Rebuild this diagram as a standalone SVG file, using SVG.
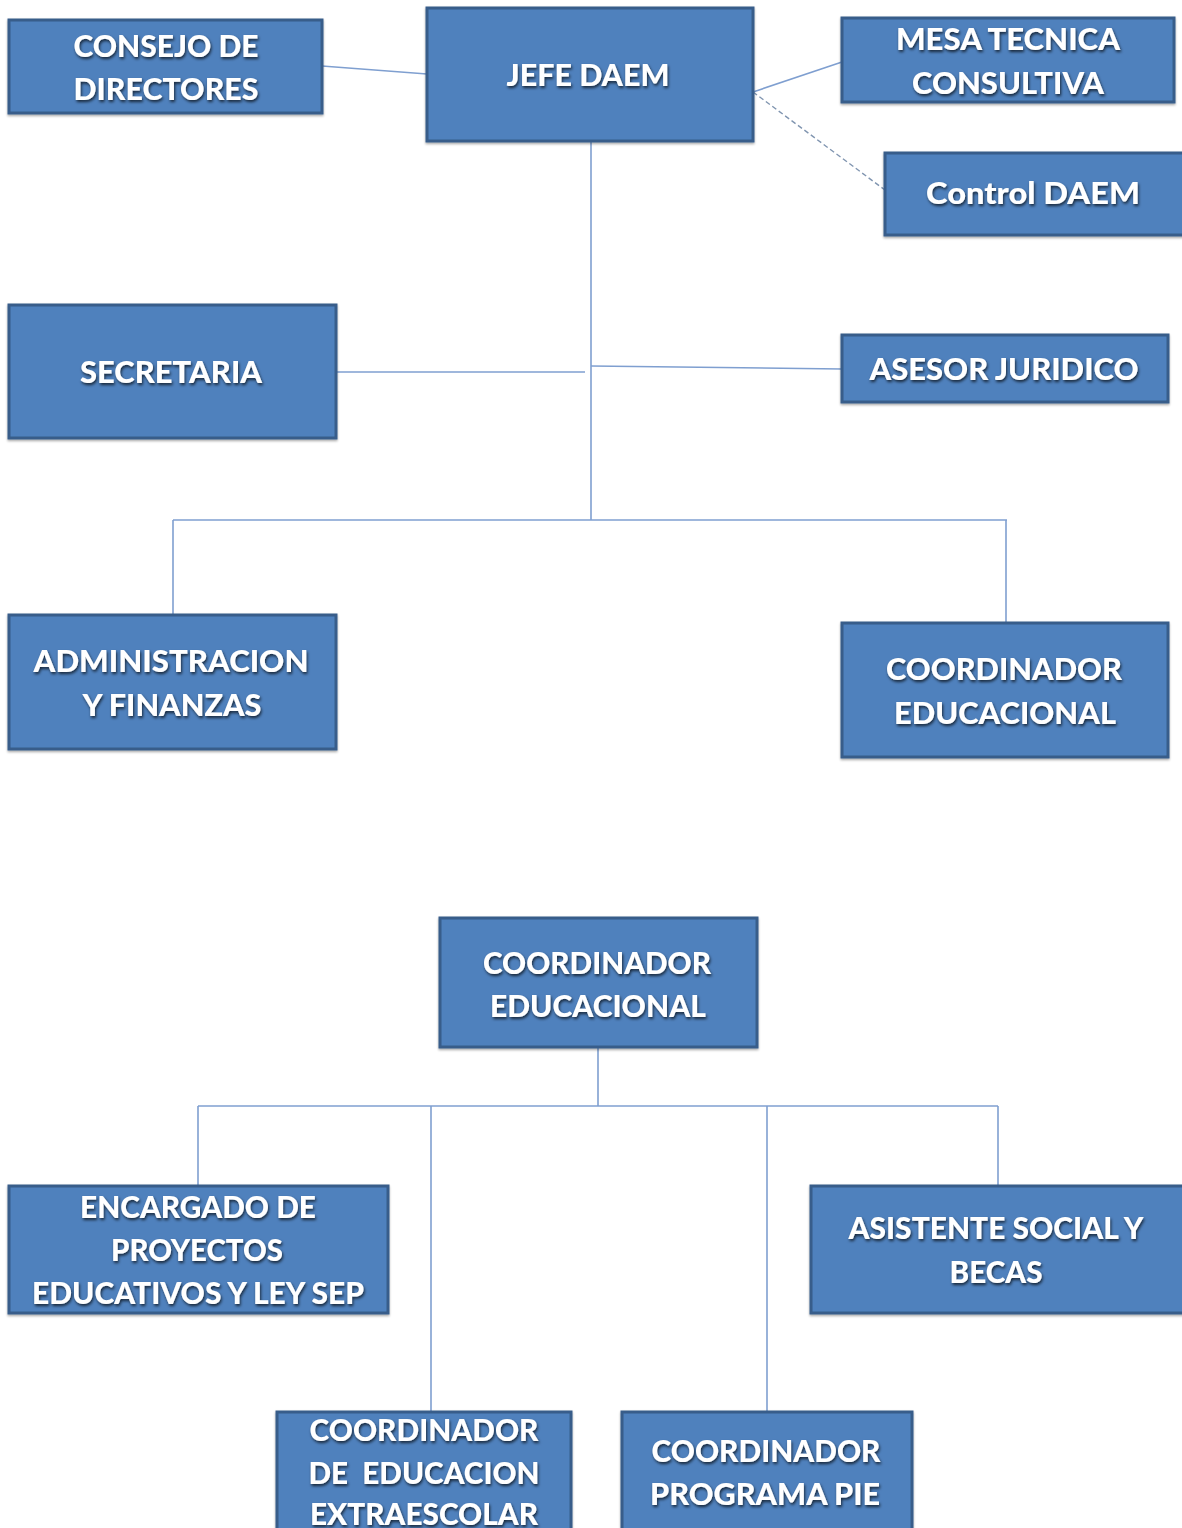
<svg xmlns="http://www.w3.org/2000/svg" width="1182" height="1528" viewBox="0 0 1182 1528">
<defs>
<filter id="ts" x="-10%" y="-30%" width="120%" height="160%">
<feDropShadow dx="1" dy="2" stdDeviation="1.5" flood-color="#000" flood-opacity="0.7"/>
</filter>
<filter id="bs" x="-5%" y="-5%" width="110%" height="115%">
<feDropShadow dx="0" dy="1.5" stdDeviation="1" flood-color="#000" flood-opacity="0.35"/>
</filter>
</defs>
<style>
.box{fill:#4F81BD;stroke:#385D8A;stroke-width:3;filter:url(#bs)}
.t{font-family:Lato,"Liberation Sans",sans-serif;font-weight:900;font-size:30px;fill:#fff;text-anchor:middle;filter:url(#ts)}
.c{stroke:#7F9FD0;stroke-width:1.6;fill:none}
.d{stroke:#8095B0;stroke-width:1.4;fill:none;stroke-dasharray:5 3}
</style>
<rect width="1182" height="1528" fill="#fff"/>
<g id="connectors">
<line class="c" x1="322" y1="66" x2="427" y2="74"/>
<line class="c" x1="753" y1="92" x2="842" y2="62"/>
<line class="d" x1="753" y1="92" x2="885" y2="190"/>
<line class="c" x1="591" y1="141" x2="591" y2="520"/>
<line class="c" x1="336" y1="372" x2="585" y2="372"/>
<line class="c" x1="591" y1="366" x2="842" y2="369"/>
<line class="c" x1="173" y1="520" x2="1007" y2="520"/>
<line class="c" x1="173" y1="520" x2="173" y2="615"/>
<line class="c" x1="1006" y1="520" x2="1006" y2="623"/>
<line class="c" x1="598" y1="1047" x2="598" y2="1106"/>
<line class="c" x1="198" y1="1106" x2="998" y2="1106"/>
<line class="c" x1="198" y1="1106" x2="198" y2="1186"/>
<line class="c" x1="431" y1="1106" x2="431" y2="1412"/>
<line class="c" x1="767" y1="1106" x2="767" y2="1412"/>
<line class="c" x1="998" y1="1106" x2="998" y2="1186"/>
</g>
<g id="consejo">
<rect class="box" x="9" y="20" width="313" height="93"/>
<text class="t" x="166" y="57" textLength="185" lengthAdjust="spacingAndGlyphs">CONSEJO DE</text>
<text class="t" x="166" y="100" textLength="185" lengthAdjust="spacingAndGlyphs">DIRECTORES</text>
</g>
<g id="jefe">
<rect class="box" x="427" y="8" width="326" height="133"/>
<text class="t" x="588" y="86" textLength="163" lengthAdjust="spacingAndGlyphs">JEFE DAEM</text>
</g>
<g id="mesa">
<rect class="box" x="842" y="18" width="332" height="84"/>
<text class="t" x="1008" y="50" textLength="224" lengthAdjust="spacingAndGlyphs">MESA TECNICA</text>
<text class="t" x="1008" y="94" textLength="192" lengthAdjust="spacingAndGlyphs">CONSULTIVA</text>
</g>
<g id="control">
<rect class="box" x="885" y="153" width="299" height="82"/>
<text class="t" x="1033" y="204" textLength="214" lengthAdjust="spacingAndGlyphs">Control DAEM</text>
</g>
<g id="secretaria">
<rect class="box" x="9" y="305" width="327" height="133"/>
<text class="t" x="171" y="383" textLength="182" lengthAdjust="spacingAndGlyphs">SECRETARIA</text>
</g>
<g id="asesor">
<rect class="box" x="842" y="335" width="326" height="67"/>
<text class="t" x="1004" y="380" textLength="269" lengthAdjust="spacingAndGlyphs">ASESOR JURIDICO</text>
</g>
<g id="admin">
<rect class="box" x="9" y="615" width="327" height="134"/>
<text class="t" x="171" y="672" textLength="275" lengthAdjust="spacingAndGlyphs">ADMINISTRACION</text>
<text class="t" x="172" y="716" textLength="179" lengthAdjust="spacingAndGlyphs">Y FINANZAS</text>
</g>
<g id="coord-top">
<rect class="box" x="842" y="623" width="326" height="134"/>
<text class="t" x="1004" y="680" textLength="236" lengthAdjust="spacingAndGlyphs">COORDINADOR</text>
<text class="t" x="1005" y="724" textLength="222" lengthAdjust="spacingAndGlyphs">EDUCACIONAL</text>
</g>
<g id="coord-bottom">
<rect class="box" x="440" y="918" width="317" height="129"/>
<text class="t" x="597" y="974" textLength="228" lengthAdjust="spacingAndGlyphs">COORDINADOR</text>
<text class="t" x="598" y="1017" textLength="216" lengthAdjust="spacingAndGlyphs">EDUCACIONAL</text>
</g>
<g id="encargado">
<rect class="box" x="9" y="1186" width="379" height="127"/>
<text class="t" x="198" y="1218" textLength="236" lengthAdjust="spacingAndGlyphs">ENCARGADO DE</text>
<text class="t" x="197" y="1261" textLength="172" lengthAdjust="spacingAndGlyphs">PROYECTOS</text>
<text class="t" x="198" y="1304" textLength="332" lengthAdjust="spacingAndGlyphs">EDUCATIVOS Y LEY SEP</text>
</g>
<g id="asistente">
<rect class="box" x="811" y="1186" width="373" height="127"/>
<text class="t" x="996" y="1239" textLength="295" lengthAdjust="spacingAndGlyphs">ASISTENTE SOCIAL Y</text>
<text class="t" x="996" y="1283" textLength="93" lengthAdjust="spacingAndGlyphs">BECAS</text>
</g>
<g id="extraescolar">
<rect class="box" x="277" y="1412" width="294" height="130"/>
<text class="t" x="424" y="1441" textLength="229" lengthAdjust="spacingAndGlyphs">COORDINADOR</text>
<text class="t" x="424" y="1484" textLength="231" lengthAdjust="spacingAndGlyphs">DE&#160; EDUCACION</text>
<text class="t" x="424" y="1525" textLength="228" lengthAdjust="spacingAndGlyphs">EXTRAESCOLAR</text>
</g>
<g id="pie">
<rect class="box" x="622" y="1412" width="290" height="130"/>
<text class="t" x="766" y="1462" textLength="229" lengthAdjust="spacingAndGlyphs">COORDINADOR</text>
<text class="t" x="765" y="1505" textLength="230" lengthAdjust="spacingAndGlyphs">PROGRAMA PIE</text>
</g>
</svg>
